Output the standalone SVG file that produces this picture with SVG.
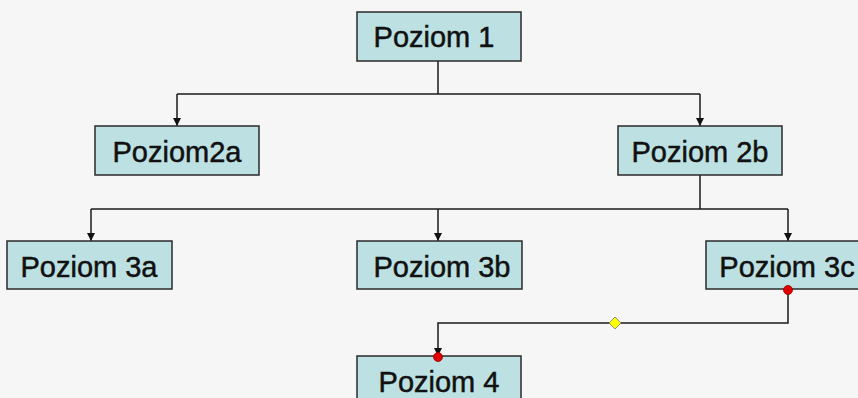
<svg xmlns="http://www.w3.org/2000/svg" width="858" height="398" viewBox="0 0 858 398">
  <style>
    .box { fill: #bde1e2; stroke: #2a2a2a; stroke-width: 1.5; }
    .lbl { font-family: "Liberation Sans", Arial, sans-serif; font-size: 29px; fill: #111; stroke: #111; stroke-width: 0.5; text-anchor: middle; }
    .wire { fill: none; stroke: #1a1a1a; stroke-width: 1.5; }
    .handle { fill: #e00000; stroke: #900; stroke-width: 0.8; }
  </style>
  <defs>
    <marker id="arrow" viewBox="0 0 10 10" refX="10" refY="5" markerWidth="8" markerHeight="8" markerUnits="userSpaceOnUse" orient="auto">
      <path d="M0,0 L10,5 L0,10 Z" fill="#111"/>
    </marker>
  </defs>
  <rect width="858" height="398" fill="#f6f6f6"/>

  <g id="connectors">
    <!-- Poziom 1 to level 2 -->
    <path class="wire" d="M438,61 V94"/>
    <path class="wire" d="M177,94 H700"/>
    <path class="wire" d="M177,94 V126" marker-end="url(#arrow)"/>
    <path class="wire" d="M700,94 V126" marker-end="url(#arrow)"/>
    <!-- Poziom 2b to level 3 -->
    <path class="wire" d="M700,175 V209"/>
    <path class="wire" d="M91,209 H788"/>
    <path class="wire" d="M91,209 V241" marker-end="url(#arrow)"/>
    <path class="wire" d="M438,209 V241" marker-end="url(#arrow)"/>
    <path class="wire" d="M788,209 V241" marker-end="url(#arrow)"/>
    <!-- Poziom 3c to Poziom 4 (selected elbow connector) -->
    <path class="wire" d="M788,290 V323 H438 V356" marker-end="url(#arrow)"/>
  </g>

  <g id="poziom1">
    <rect class="box" x="357" y="12" width="164" height="49"/>
    <text class="lbl" x="434" y="47">Poziom 1</text>
  </g>
  <g id="poziom2a">
    <rect class="box" x="95" y="126" width="164" height="49"/>
    <text class="lbl" x="177" y="162">Poziom2a</text>
  </g>
  <g id="poziom2b">
    <rect class="box" x="618" y="126" width="164" height="49"/>
    <text class="lbl" x="700" y="162">Poziom 2b</text>
  </g>
  <g id="poziom3a">
    <rect class="box" x="7" y="241" width="165" height="48"/>
    <text class="lbl" x="89" y="277">Poziom 3a</text>
  </g>
  <g id="poziom3b">
    <rect class="box" x="357" y="241" width="165" height="48"/>
    <text class="lbl" x="442" y="277">Poziom 3b</text>
  </g>
  <g id="poziom3c">
    <rect class="box" x="706" y="241" width="164" height="48"/>
    <text class="lbl" x="787" y="277">Poziom 3c</text>
  </g>
  <g id="poziom4">
    <rect class="box" x="357" y="356" width="164" height="48"/>
    <text class="lbl" x="439" y="392">Poziom 4</text>
  </g>

  <!-- selection handles of the elbow connector -->
  <g id="connector-handles">
    <circle class="handle" cx="788" cy="290" r="4.5"/>
    <circle class="handle" cx="438" cy="357" r="4.5"/>
    <path d="M615,317 L621,323 L615,329 L609,323 Z" fill="#ffff00" stroke="#777" stroke-width="0.8"/>
  </g>
</svg>
